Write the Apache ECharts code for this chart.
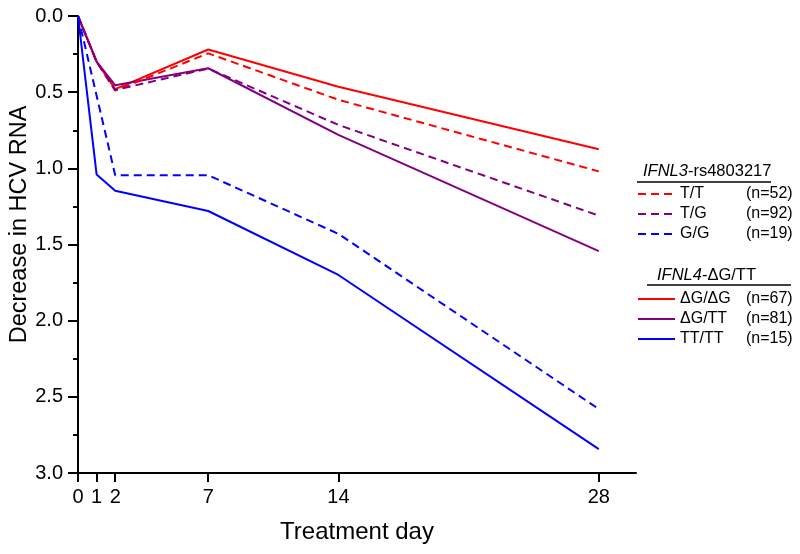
<!DOCTYPE html>
<html>
<head>
<meta charset="utf-8">
<script src="https://cdn.jsdelivr.net/npm/echarts@6/dist/echarts.min.js"></script>
<style>html,body{margin:0;padding:0;background:#fff}#c{width:800px;height:554px}</style>
</head>
<body>
<div id="c"></div>
<script>
// Treatment days (x-axis ticks)
var days = [0, 1, 2, 7, 14, 28];
var ggDays = [0, 2, 7, 14, 28];
var yTicks = [0, 0.5, 1.0, 1.5, 2.0, 2.5, 3.0];

// IFNL3-rs4803217 groups (dashed)
var snpNames = ['T/T', 'T/G', 'G/G'];
var snpN = ['(n=52)', '(n=92)', '(n=19)'];
var snpTT = [0, 0.30, 0.49, 0.245, 0.55, 1.02];
var snpTG = [0, 0.30, 0.486, 0.345, 0.715, 1.31];
var snpGG = [0, 1.045, 1.045, 1.43, 2.58];

// IFNL4-ΔG/TT groups (solid)
var dgNames = ['ΔG/ΔG', 'ΔG/TT', 'TT/TT'];
var dgN = ['(n=67)', '(n=81)', '(n=15)'];
var dgDG = [0, 0.30, 0.48, 0.22, 0.465, 0.875];
var dgTT = [0, 0.30, 0.455, 0.343, 0.78, 1.543];
var ttTT = [0, 1.04, 1.147, 1.28, 1.70, 2.843];

var RED = '#ff0000', PURPLE = '#800080', BLUE = '#0000ff';
var FONT = 'Liberation Sans, Arial, sans-serif';

function pairs(xs, ys) { return xs.map(function (x, i) { return [x, ys[i]]; }); }
function mk(name, xs, ys, color, dashed) {
  return {
    name: name, type: 'line', data: pairs(xs, ys), symbol: 'none', showSymbol: false,
    lineStyle: { color: color, width: 2, type: dashed ? [8, 5] : 'solid' },
    itemStyle: { color: color }, animation: false, z: dashed ? 3 : 2
  };
}
var nLookup = {};
snpNames.forEach(function (n, i) { nLookup[n] = snpN[i]; });
dgNames.forEach(function (n, i) { nLookup[n] = dgN[i]; });

function legendCfg(names, top) {
  return {
    data: names, orient: 'vertical', left: 637, top: top, padding: 0,
    itemWidth: 37, itemHeight: 14, itemGap: 0, selectedMode: false,
    itemStyle: { opacity: 0 },
    formatter: function (n) { return '{a|' + n + '}{b|' + nLookup[n] + '}'; },
    textStyle: {
      fontFamily: FONT, fontSize: 16, color: '#000', lineHeight: 20,
      rich: { a: { width: 66, fontSize: 16, fontFamily: FONT, color: '#000', lineHeight: 20 },
              b: { fontSize: 16, fontFamily: FONT, color: '#000', lineHeight: 20 } }
    }
  };
}

var chart = echarts.init(document.getElementById('c'), null, { renderer: 'canvas' });
chart.setOption({
  animation: false,
  backgroundColor: '#fff',
  grid: { left: 78, right: 164, top: 16, bottom: 81, containLabel: false, outerBoundsMode: 'none' },
  xAxis: {
    type: 'value', min: 0, max: 30,
    name: 'Treatment day', nameLocation: 'middle', nameGap: 47, nameMoveOverlap: false,
    nameTextStyle: { fontFamily: FONT, fontSize: 24, color: '#000' },
    axisLine: { show: true, onZero: false, lineStyle: { color: '#000', width: 2 } },
    axisTick: { show: true, length: 9, customValues: days, lineStyle: { color: '#000', width: 2 } },
    axisLabel: { customValues: days, margin: 14, fontFamily: FONT, fontSize: 20, color: '#000' },
    splitLine: { show: false }
  },
  yAxis: {
    type: 'value', inverse: true, min: 0, max: 3, interval: 0.5,
    name: 'Decrease in HCV RNA', nameLocation: 'middle', nameGap: 46, nameMoveOverlap: false,
    nameTextStyle: { fontFamily: FONT, fontSize: 23.5, color: '#000', padding: [0, 0, 0, 40] },
    axisLine: { show: true, onZero: false, lineStyle: { color: '#000', width: 2 } },
    axisTick: { show: true, length: 10, lineStyle: { color: '#000', width: 2 } },
    minorTick: { show: true, splitNumber: 2, length: 5, lineStyle: { color: '#000', width: 2 } },
    axisLabel: { margin: 15, fontFamily: FONT, fontSize: 20, color: '#000',
      formatter: function (v) { return v.toFixed(1); } },
    splitLine: { show: false }, minorSplitLine: { show: false }
  },
  legend: [legendCfg(snpNames, 184), legendCfg(dgNames, 289)],
  graphic: [
    { type: 'text', left: 643, top: 163, style: { text: '{i|IFNL3}-rs4803217', font: '16.5px ' + FONT, fill: '#000',
      rich: { i: { fontStyle: 'italic', fontSize: 16.5, fontFamily: FONT, fill: '#000' } } } },
    { type: 'line', shape: { x1: 637, y1: 182, x2: 771, y2: 182 }, style: { stroke: '#000', lineWidth: 1.5 } },
    { type: 'text', left: 657, top: 267, style: { text: '{i|IFNL4}-ΔG/TT', font: '16.5px ' + FONT, fill: '#000',
      rich: { i: { fontStyle: 'italic', fontSize: 16.5, fontFamily: FONT, fill: '#000' } } } },
    { type: 'line', shape: { x1: 647, y1: 285, x2: 791, y2: 285 }, style: { stroke: '#000', lineWidth: 1.5 } }
  ],
  series: [
    mk(snpNames[0], days, snpTT, RED, true),
    mk(snpNames[1], days, snpTG, PURPLE, true),
    mk(snpNames[2], ggDays, snpGG, BLUE, true),
    mk(dgNames[0], days, dgDG, RED, false),
    mk(dgNames[1], days, dgTT, PURPLE, false),
    mk(dgNames[2], days, ttTT, BLUE, false)
  ]
});
</script>
</body>
</html>
